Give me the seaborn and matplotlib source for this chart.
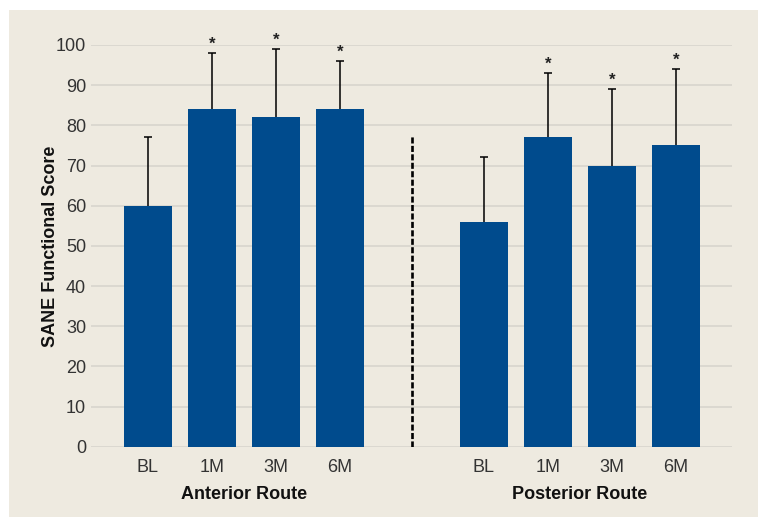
import matplotlib
matplotlib.use("Agg")
import matplotlib.pyplot as plt
from matplotlib.patches import Rectangle
import seaborn as sns
import pandas as pd

# SANE functional scores (mean and upper SD) by time point and surgical route
timepoints = ["BL", "1M", "3M", "6M"]
anterior_mean = [60, 84, 82, 84]
anterior_upper = [77, 98, 99, 96]
posterior_mean = [56, 77, 70, 75]
posterior_upper = [72, 93, 89, 94]
significant = [False, True, True, True]
group_names = ["Anterior Route", "Posterior Route"]

BLUE = "#004b8d"
BEIGE = "#eeeae0"
GRID = "#d6d3cc"
TEXT = "#333333"

sns.set_theme(style="white")
plt.rcParams["font.family"] = ["Liberation Sans", "DejaVu Sans"]

# bar positions: two groups of four, separated by a wider gap
anterior_x = [0, 1, 2, 3]
posterior_x = [5.25, 6.25, 7.25, 8.25]
divider_x = 4.125

df = pd.DataFrame({
    "pos": anterior_x + posterior_x,
    "score": anterior_mean + posterior_mean,
    "upper": anterior_upper + posterior_upper,
    "label": timepoints + timepoints,
    "sig": significant + significant,
})

fig = plt.figure(figsize=(7.58, 5.17), dpi=100, facecolor="white")
W, H = 758, 517
fig.patches.append(Rectangle((9 / W, 0), 1 - 9 / W, 1 - 10 / H,
                             transform=fig.transFigure, facecolor=BEIGE,
                             edgecolor="none", zorder=-10))

y0, y100 = 446.7, 45.0
ax = fig.add_axes([91 / W, (H - y0) / H, (732 - 91) / W, (y0 - y100) / H])
ax.set_facecolor("none")

sns.barplot(data=df, x="pos", y="score", native_scale=True, color=BLUE,
            saturation=1, width=0.75, errorbar=None, linewidth=0,
            ax=ax, zorder=2)

# upper-only error bars
eb = ax.errorbar(df["pos"], df["score"],
                 yerr=[[0] * len(df), (df["upper"] - df["score"]).tolist()],
                 fmt="none", ecolor="black", elinewidth=1.1, capsize=2.6,
                 capthick=1.1, zorder=3)
eb.lines[1][0].set_visible(False)  # no cap at the bar top

for _, r in df.iterrows():
    if r["sig"]:
        ax.annotate("*", (r["pos"], r["upper"]), xytext=(0, 1),
                    textcoords="offset points", ha="center", va="bottom",
                    fontsize=12, fontweight="bold", color="#222222",
                    annotation_clip=False)

ax.plot([divider_x, divider_x], [0, 77.3], color="black", lw=1.9,
        linestyle=(0, (2.3, 0.9)), zorder=3)

ax.set_xlim(-0.89, 9.125)
ax.set_ylim(0, 100)
ax.set_yticks(range(0, 101, 10))
ax.yaxis.grid(True, color=GRID, lw=1.1, zorder=0)
ax.set_axisbelow(True)
ax.set_xticks(df["pos"])
ax.set_xticklabels(df["label"])
ax.tick_params(axis="both", length=0, labelsize=13, labelcolor=TEXT)
ax.tick_params(axis="y", pad=3.5)
ax.tick_params(axis="x", pad=9)
for s in ax.spines.values():
    s.set_visible(False)

ax.set_xlabel("")
ax.set_ylabel("SANE Functional Score", fontsize=13, fontweight="bold",
              color="#111111")
ax.yaxis.set_label_coords(-0.050, 0.5)

for name, xs in zip(group_names, [anterior_x, posterior_x]):
    ax.text((xs[0] + xs[-1]) / 2, -0.118, name, transform=ax.get_xaxis_transform(),
            ha="center", va="center", fontsize=13, fontweight="bold",
            color="#111111")

fig.savefig("out.png", dpi=100, facecolor="white")
